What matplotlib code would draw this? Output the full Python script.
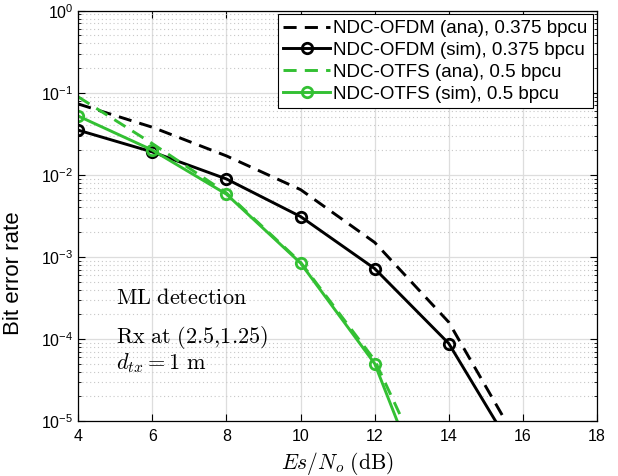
import numpy as np
import matplotlib
matplotlib.use("Agg")
import matplotlib.pyplot as plt

plt.rcParams['font.family'] = ['Liberation Sans', 'DejaVu Sans']
plt.rcParams['mathtext.fontset'] = 'cm'

# SNR points (dB)
snr = [4, 6, 8, 10, 12, 14, 16]
snr_otfs = [4, 6, 8, 10, 12, 14]

# bit error rates
ber_ofdm_ana = [0.073, 0.038, 0.017, 0.0066, 0.0015, 1.6e-4, 4.3e-6]
ber_ofdm_sim = [0.035, 0.019, 0.0089, 0.0031, 7.2e-4, 8.8e-5, 2.8e-6]
ber_otfs_ana = [0.089, 0.024, 0.0060, 8.6e-4, 5.5e-5, 6.3e-7]
ber_otfs_sim = [0.052, 0.020, 0.0058, 8.4e-4, 5.0e-5, 2.5e-7]

green = '#33c033'

fig = plt.figure(figsize=(6.18, 4.76), dpi=100)
ax = fig.add_axes([0.1267, 0.1155, 0.8393, 0.862])

ax.semilogy(snr, ber_ofdm_ana, '--', color='k', lw=2.1, dashes=(4.5, 2.8),
            label='NDC-OFDM (ana), 0.375 bpcu')
ax.semilogy(snr, ber_ofdm_sim, '-o', color='k', lw=2.1, ms=7.5, mfc='none', mew=2,
            label='NDC-OFDM (sim), 0.375 bpcu')
ax.semilogy(snr_otfs, ber_otfs_ana, '--', color=green, lw=2.1, dashes=(4.5, 2.8),
            label='NDC-OTFS (ana), 0.5 bpcu')
ax.semilogy(snr_otfs, ber_otfs_sim, '-o', color=green, lw=2.1, ms=7.5, mfc='none', mew=2,
            label='NDC-OTFS (sim), 0.5 bpcu')

ax.set_xlim(4, 18)
ax.set_ylim(1e-5, 1)
ax.set_xticks(range(4, 19, 2))
ax.grid(True, which='major', color='#dddddd', lw=0.9)
ax.grid(True, which='minor', axis='y', color='#c8c8c8', lw=0.8, ls=(0, (1, 2.5)))
ax.set_axisbelow(True)
ax.tick_params(which='both', direction='in', top=True, right=True, labelsize=11.5)
ax.tick_params(which='major', length=5)
ax.tick_params(which='minor', length=2.5)
ax.tick_params(axis='x', pad=6)
for s in ax.spines.values():
    s.set_linewidth(0.9)

ax.set_ylabel('Bit error rate', fontsize=16)
ax.yaxis.set_label_coords(-0.105, 0.36)
ax.set_xlabel(r'$Es/N_o\ \mathrm{(dB)}$', fontsize=15.5, labelpad=4)

ax.text(5.02, 10**-3.51, r'$\mathrm{ML\ detection}$', fontsize=16, va='center')
ax.text(5.02, 10**-3.98, r'$\mathrm{Rx\ at\ (2.5{,}1.25)}$', fontsize=16, va='center')
ax.text(5.02, 10**-4.30, r'$d_{tx} = 1\ \mathrm{m}$', fontsize=16, va='center')

leg = ax.legend(loc='upper right', fontsize=13.5, fancybox=False, framealpha=1,
                edgecolor='k', handlelength=2.5, borderpad=0.3, labelspacing=0.25,
                handletextpad=0.16, borderaxespad=0.2)
leg.get_frame().set_linewidth(0.8)

fig.savefig('out.png', dpi=100)
